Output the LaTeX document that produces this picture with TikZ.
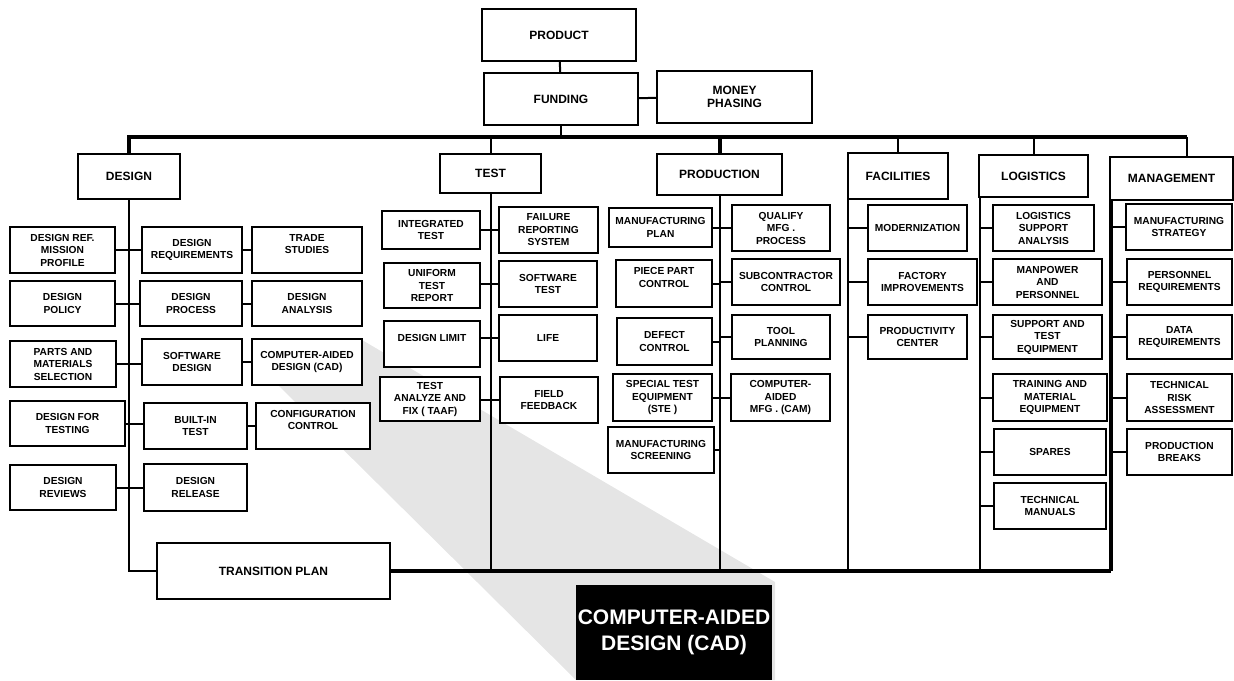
\documentclass[tikz,border=0pt]{standalone}
\usepackage{fontspec}
\setmainfont{Liberation Sans}
\usetikzlibrary{positioning}

\begin{document}
\begin{tikzpicture}[x=1pt, y=-1pt,
    box/.style={draw, line width=2pt, fill=white, align=center, inner sep=1pt,
        font=\bfseries\fontsize{10.2}{12.5}\selectfont},
    head/.style={box, font=\bfseries\fontsize{12}{13.5}\selectfont},
    sz/.style 2 args={minimum width=#1pt, minimum height=#2pt},
    link/.style={line width=2pt},
    bus/.style={line width=4pt},
    heavy/.style={line width=3.2pt}]
    \useasboundingbox (0,0) rectangle (1234,680);

    % zoom fan behind the chart
    \fill[black!10] (278,385) -- (362,340) -- (775,582) -- (775,680) -- (576,680) -- cycle;

    % top of the tree
    \node[head, sz={154}{52}] (product) at (559,35) {PRODUCT};
    \node[head, sz={154}{52}] (fund) at (561,99) {FUNDING};
    \node[head, sz={155}{52}] (money) at (734.5,97) {MONEY\\PHASING};

    % second level
    \node[head, sz={102}{45}] (design) at (129,176.5) {DESIGN};
    \node[head, sz={101}{39}] (test) at (490.5,173.5) {TEST};
    \node[head, sz={125}{41}] (prod) at (719.5,174.5) {PRODUCTION};
    \node[head, sz={100}{46}] (fac) at (898,176) {FACILITIES};
    \node[head, sz={109}{42}] (log) at (1033.5,176) {LOGISTICS};
    \node[head, sz={123}{43}] (mgmt) at (1171.5,178.5) {MANAGEMENT};

    % design
    \node[box, sz={105}{46}] (dref) at (62.5,250) {DESIGN REF.\\MISSION\\PROFILE};
    \node[box, sz={100}{46}] (dreq) at (192,250) {DESIGN\\REQUIREMENTS};
    \node[box, sz={110}{46}] (trade) at (307,250) {TRADE\\STUDIES\\\mbox{}};
    \node[box, sz={105}{45}] (dpol) at (62.5,303.5) {DESIGN\\POLICY};
    \node[box, sz={102}{45}] (dproc) at (191,303.5) {DESIGN\\PROCESS};
    \node[box, sz={110}{45}] (danal) at (307,303.5) {DESIGN\\ANALYSIS};
    \node[box, sz={106}{46}] (parts) at (63,364) {PARTS AND\\MATERIALS\\SELECTION};
    \node[box, sz={100}{46}] (swd) at (192,362) {SOFTWARE\\DESIGN};
    \node[box, sz={110}{46}] (cad) at (307,362) {COMPUTER-AIDED\\DESIGN (CAD)};
    \node[box, sz={115}{45}] (dft) at (67.5,423.5) {DESIGN FOR\\TESTING};
    \node[box, sz={103}{46}] (bit) at (195.5,426) {BUILT-IN\\TEST};
    \node[box, sz={114}{46}] (cfg) at (313,426) {CONFIGURATION\\CONTROL\\\mbox{}};
    \node[box, sz={106}{45}] (drev) at (63,487.5) {DESIGN\\REVIEWS};
    \node[box, sz={103}{47}] (drel) at (195.5,487.5) {DESIGN\\RELEASE};
    \node[head, sz={233}{56}] (trans) at (273.5,571) {TRANSITION PLAN};

    % test
    \node[box, sz={98}{38}] (itest) at (431,230) {INTEGRATED\\TEST};
    \node[box, sz={99}{46}] (frs) at (548.5,230) {FAILURE\\REPORTING\\SYSTEM};
    \node[box, sz={96}{45}] (utr) at (432,285.5) {UNIFORM\\TEST\\REPORT};
    \node[box, sz={98}{46}] (swt) at (548,284) {SOFTWARE\\TEST};
    \node[box, sz={96}{46}] (dlim) at (432,344) {DESIGN LIMIT\\\mbox{}};
    \node[box, sz={98}{46}] (life) at (548,338) {LIFE};
    \node[box, sz={100}{44}] (taaf) at (430,399) {TEST\\ANALYZE AND\\FIX ( TAAF)};
    \node[box, sz={98}{46}] (ffb) at (549,400) {FIELD\\FEEDBACK};

    % production
    \node[box, sz={103}{39}] (mplan) at (660.5,227.5) {MANUFACTURING\\PLAN};
    \node[box, sz={98}{46}] (qual) at (781,228) {QUALIFY\\MFG .\\PROCESS};
    \node[box, sz={96}{47}] (ppc) at (664,283.5) {PIECE PART\\CONTROL\\\mbox{}};
    \node[box, sz={108}{46}] (sub) at (786,282) {SUBCONTRACTOR\\CONTROL};
    \node[box, sz={95}{47}] (defect) at (664.5,341.5) {DEFECT\\CONTROL};
    \node[box, sz={98}{44}] (tool) at (781,337) {TOOL\\PLANNING};
    \node[box, sz={99}{47}] (ste) at (662.5,397.5) {SPECIAL TEST\\EQUIPMENT\\(STE )};
    \node[box, sz={99}{47}] (cam) at (780.5,397.5) {COMPUTER-\\AIDED\\MFG . (CAM)};
    \node[box, sz={106}{46}] (mscr) at (661,450) {MANUFACTURING\\SCREENING};

    % facilities
    \node[box, sz={99}{46}] (modern) at (917.5,228) {MODERNIZATION};
    \node[box, sz={109}{46}] (factory) at (922.5,282) {FACTORY\\IMPROVEMENTS};
    \node[box, sz={99}{44}] (pcenter) at (917.5,337) {PRODUCTIVITY\\CENTER};

    % logistics
    \node[box, sz={101}{46}] (lsa) at (1043.5,228) {LOGISTICS\\SUPPORT\\ANALYSIS};
    \node[box, sz={109}{46}] (manp) at (1047.5,282) {MANPOWER\\AND\\PERSONNEL};
    \node[box, sz={109}{44}] (supeq) at (1047.5,337) {SUPPORT AND\\TEST\\EQUIPMENT};
    \node[box, sz={114}{47}] (train) at (1050,397.5) {TRAINING AND\\MATERIAL\\EQUIPMENT};
    \node[box, sz={112}{46}] (spares) at (1050,452) {SPARES};
    \node[box, sz={112}{46}] (tman) at (1050,506) {TECHNICAL\\MANUALS};

    % management
    \node[box, sz={106}{46}] (mstrat) at (1179,227) {MANUFACTURING\\STRATEGY};
    \node[box, sz={105}{46}] (preq) at (1179.5,282) {PERSONNEL\\REQUIREMENTS};
    \node[box, sz={105}{44}] (dreqm) at (1179.5,337) {DATA\\REQUIREMENTS};
    \node[box, sz={105}{47}] (trisk) at (1179.5,397.5) {TECHNICAL\\RISK\\ASSESSMENT};
    \node[box, sz={105}{46}] (pbreak) at (1179.5,452) {PRODUCTION\\BREAKS};

    % enlarged label
    \node[fill=black, text=white, sz={196}{95}, inner sep=0pt, align=center,
        font=\bfseries\fontsize{21}{26}\selectfont] (zoomcad) at (674,632.5) {COMPUTER-AIDED\\DESIGN (CAD)};

    % bus and top links
    \coordinate (busy) at (0,137);
    \coordinate (mgmtc) at ([xshift=15pt]mgmt.north);
    \draw[link] (product) -- (fund);
    \draw[link] (fund) -- (money);
    \draw[bus] (design.north) |- (mgmtc |- busy);
    \draw[link] (mgmtc |- busy) -- (mgmtc);
    \draw[link] (fund.south) -- (fund.south |- busy);
    \draw[bus] (prod.north) -- (prod.north |- busy);
    \foreach \n in {test, fac, log}
        \draw[link] (\n.north) -- (\n.north |- busy);

    % spines
    \coordinate (fsp) at ([xshift=1pt]fac.south west);
    \coordinate (lsp) at ([xshift=2pt]log.south west);
    \coordinate (msp) at ([xshift=2pt]mgmt.south west);
    \draw[link] (design.south) |- (trans.west);
    \foreach \n in {test.south, prod.south, fsp, lsp}
        \draw[link] (\n) -- (\n |- trans.east);
    \draw[heavy] (trans.east) -- (msp |- trans.east);
    \draw[bus] (msp) -- (msp |- trans.east);

    % branches
    \foreach \a/\b in {dref/dreq, dpol/dproc, parts/swd, dft/bit, drev/drel,
                       dreq/trade, dproc/danal, swd/cad, bit/cfg}
        \draw[link] (\a.east) -- (\a.east -| \b.west);
    \foreach \a/\b in {frs/itest, swt/utr, life/dlim, ffb/taaf}
        \draw[link] (\a.west) -- (\a.west -| \b.east);
    \foreach \a in {mplan, ppc, defect, ste, mscr}
        \draw[link] (\a.east) -- (\a.east -| prod.south);
    \foreach \a in {qual, sub, tool, cam}
        \draw[link] (\a.west) -- (\a.west -| prod.south);
    \foreach \a in {modern, factory, pcenter}
        \draw[link] (\a.west) -- (\a.west -| fsp);
    \foreach \a in {lsa, manp, supeq, train, spares, tman}
        \draw[link] (\a.west) -- (\a.west -| lsp);
    \foreach \a in {mstrat, preq, dreqm, trisk, pbreak}
        \draw[link] (\a.west) -- (\a.west -| msp);
\end{tikzpicture}
\end{document}
